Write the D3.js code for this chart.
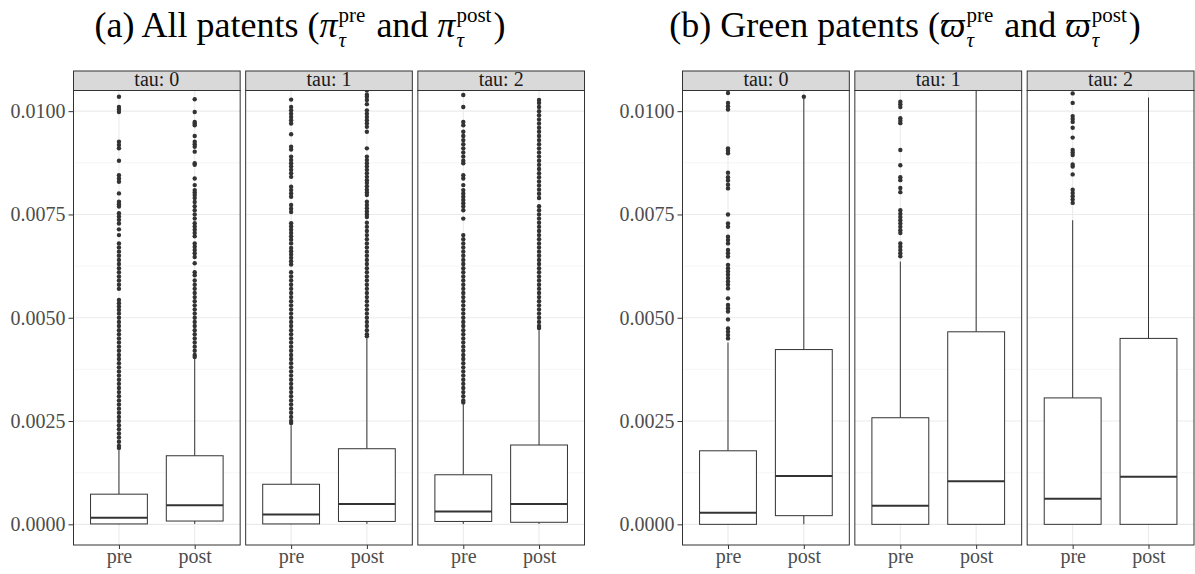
<!DOCTYPE html>
<html>
<head>
<meta charset="utf-8">
<script src="https://cdn.jsdelivr.net/npm/d3@7"></script>
<style>
  body { margin: 0; background: #fff; }
  svg { display: block; font-family: "Liberation Serif", "DejaVu Serif", serif; }
</style>
</head>
<body>
<div id="chart"></div>
<script>
/* boxplots of pre/post values by tau, all patents vs green patents */

const taus = ["tau: 0", "tau: 1", "tau: 2"];
const groups = ["pre", "post"];
const yTicks = [0, 0.0025, 0.005, 0.0075, 0.01];
const yMinor = [0.00125, 0.00375, 0.00625, 0.00875];

// order of every array: tau0 pre, tau0 post, tau1 pre, tau1 post, tau2 pre, tau2 post
// (a) all patents
const allLow  = [0, 0.00001, 0, 0.00001, 0.00001, 0.00001];
const allQ1   = [0.00001, 0.00008, 0.00001, 0.00007, 0.00007, 0.00005];
const allMed  = [0.00016, 0.00046, 0.00024, 0.00049, 0.00031, 0.00049];
const allQ3   = [0.00073, 0.00166, 0.00097, 0.00183, 0.0012, 0.00192];
const allHigh = [0.0018, 0.0040, 0.0024, 0.0045, 0.0029, 0.0047];
const allOut = [
  [0.01035, 0.0101, 0.01004, 0.00998, 0.00926, 0.00918, 0.0091, 0.0088, 0.00845, 0.00837, 0.00829,
   0.00801, 0.00781, 0.00775, 0.00769, 0.00753, 0.00745, 0.00737, 0.00728, 0.00714, 0.007,
   0.0068, 0.0067, 0.0066, 0.0065, 0.0064, 0.0063, 0.0062, 0.0061, 0.006, 0.0059, 0.0058, 0.0057,
   0.00543, 0.00535, 0.00527, 0.00519, 0.0051, 0.005, 0.0049, 0.0048, 0.0047, 0.0046, 0.0045,
   0.0044, 0.0043, 0.0042, 0.0041, 0.004, 0.0039, 0.0038, 0.0037, 0.0036, 0.0035, 0.0034, 0.0033,
   0.0032, 0.0031, 0.003, 0.0029, 0.0028, 0.0027, 0.0026, 0.0025, 0.0024, 0.0023, 0.0022, 0.0021,
   0.002, 0.0019, 0.00185],
  [0.01029, 0.00998, 0.00974, 0.0097, 0.00966, 0.0094, 0.00926, 0.0092, 0.00914, 0.00902, 0.00874,
   0.0087, 0.00837, 0.00821, 0.00809, 0.00803, 0.00797, 0.0079, 0.0078, 0.0077, 0.0076, 0.0075,
   0.0074, 0.00729, 0.00721, 0.00713, 0.00705, 0.00697, 0.0068, 0.00672, 0.00664, 0.00656, 0.00647,
   0.00632, 0.0061, 0.00603, 0.0059, 0.0058, 0.0057, 0.0056, 0.0055, 0.0054, 0.0053, 0.0052,
   0.0051, 0.005, 0.0049, 0.0048, 0.0047, 0.0046, 0.0045, 0.0044, 0.0043, 0.0042, 0.0041, 0.00405],
  [0.01028, 0.0101, 0.01002, 0.00994, 0.00986, 0.00978, 0.0097, 0.00944, 0.00914, 0.00907, 0.0089,
   0.00882, 0.00874, 0.00866, 0.00858, 0.0085, 0.00841, 0.00817, 0.00809, 0.00801, 0.00793,
   0.00773, 0.00764, 0.00756, 0.00729, 0.00721, 0.00713, 0.00705, 0.00697, 0.00689, 0.0068,
   0.00669, 0.00661, 0.00653, 0.00645, 0.00637, 0.00629, 0.0061, 0.006, 0.0059, 0.0058, 0.0057,
   0.0056, 0.0055, 0.0054, 0.0053, 0.0052, 0.0051, 0.005, 0.0049, 0.0048, 0.0047, 0.0046, 0.0045,
   0.0044, 0.0043, 0.0042, 0.0041, 0.004, 0.0039, 0.0038, 0.0037, 0.0036, 0.0035, 0.0034, 0.0033,
   0.0032, 0.0031, 0.003, 0.0029, 0.0028, 0.0027, 0.0026, 0.0025, 0.00245],
  [0.0108, 0.0107, 0.0106, 0.0105, 0.0104, 0.01035, 0.01027, 0.01017, 0.01002, 0.00994, 0.00986,
   0.00978, 0.0097, 0.00962, 0.0095, 0.0091, 0.0089, 0.00882, 0.00874, 0.00866, 0.00858, 0.0085,
   0.00841, 0.00833, 0.00826, 0.00818, 0.0081, 0.00803, 0.00797, 0.00781, 0.00773, 0.00765,
   0.00757, 0.0075, 0.00744, 0.0073, 0.0072, 0.0071, 0.007, 0.0069, 0.0068, 0.0067, 0.0066, 0.0065,
   0.0064, 0.0063, 0.0062, 0.0061, 0.006, 0.0059, 0.0058, 0.0057, 0.0056, 0.0055, 0.0054, 0.0053,
   0.0052, 0.0051, 0.005, 0.0049, 0.0048, 0.0047, 0.0046, 0.00455],
  [0.01039, 0.0101, 0.00974, 0.00966, 0.0095, 0.0094, 0.0093, 0.0092, 0.0091, 0.009, 0.0089, 0.0088,
   0.00874, 0.00845, 0.00837, 0.00821, 0.00809, 0.00801, 0.00793, 0.00785, 0.00777, 0.00769,
   0.0076, 0.0074, 0.007, 0.0069, 0.0068, 0.0067, 0.0066, 0.0065, 0.0064, 0.0063, 0.0062, 0.0061,
   0.006, 0.0059, 0.0058, 0.0057, 0.0056, 0.0055, 0.0054, 0.0053, 0.0052, 0.0051, 0.005, 0.0049,
   0.0048, 0.0047, 0.0046, 0.0045, 0.0044, 0.0043, 0.0042, 0.0041, 0.004, 0.0039, 0.0038, 0.0037,
   0.0036, 0.0035, 0.0034, 0.0033, 0.0032, 0.0031, 0.003, 0.00295],
  [0.01027, 0.0102, 0.0101, 0.01, 0.0099, 0.0098, 0.0097, 0.0096, 0.0095, 0.0094, 0.0093, 0.0092,
   0.0091, 0.009, 0.0089, 0.0088, 0.0087, 0.0086, 0.0085, 0.0084, 0.0083, 0.0082, 0.0081, 0.008,
   0.0079, 0.0077, 0.0076, 0.0075, 0.0074, 0.0073, 0.0072, 0.0071, 0.007, 0.0069, 0.0068, 0.0067,
   0.0066, 0.0065, 0.0064, 0.0063, 0.0062, 0.0061, 0.006, 0.0059, 0.0058, 0.0057, 0.0056, 0.0055,
   0.0054, 0.0053, 0.0052, 0.0051, 0.005, 0.0049, 0.0048, 0.00475]
];

// (b) green patents
const greenLow  = [0, 0, 0, 0, 0, 0];
const greenQ1   = [0, 0.00021, 0, 0, 0, 0];
const greenMed  = [0.00028, 0.00117, 0.00045, 0.00104, 0.00062, 0.00115];
const greenQ3   = [0.00178, 0.00423, 0.00258, 0.00466, 0.00306, 0.0045];
const greenHigh = [0.0044, 0.0103, 0.00636, 0.0115, 0.00736, 0.01033];
const greenOut = [
  [0.01044, 0.0102, 0.01012, 0.01004, 0.0091, 0.00904, 0.00898, 0.00851, 0.0084, 0.00832, 0.00822,
   0.00813, 0.0075, 0.00728, 0.0072, 0.00696, 0.00688, 0.0068, 0.00664, 0.00656, 0.00648, 0.00628,
   0.0062, 0.00612, 0.00604, 0.00596, 0.00588, 0.0058, 0.00571, 0.00547, 0.00531, 0.00523, 0.00515,
   0.00496, 0.00474, 0.00466, 0.00458, 0.0045],
  [0.01035],
  [0.01023, 0.01017, 0.0101, 0.00983, 0.00977, 0.00971, 0.00906, 0.00869, 0.0084, 0.00833, 0.00814,
   0.00804, 0.0076, 0.00752, 0.00744, 0.00736, 0.00728, 0.0072, 0.00712, 0.00705, 0.0068, 0.00672,
   0.00664, 0.00656, 0.00649],
  [],
  [0.01043, 0.0102, 0.00988, 0.00981, 0.00974, 0.0096, 0.00936, 0.00906, 0.009, 0.00894, 0.00871,
   0.00866, 0.00847, 0.0081, 0.00802, 0.00794, 0.00786, 0.00778],
  []
];

const width = 1195, height = 574;
const panelTop = 90.5, panelBottom = 545, stripH = 19.5;
const serif = "'Liberation Serif', 'DejaVu Serif', serif";

let svg = d3.select("#chart")
    .append("svg")
    .attr("width", width)
    .attr("height", height)
    .attr("viewBox", [0, 0, width, height]);

function makeRows(low, q1, med, q3, high, out) {
    return taus.flatMap((t, i) => groups.map((g, j) => {
        const k = i * 2 + j;
        return {tau: t, grp: g, low: low[k], q1: q1[k], med: med[k], q3: q3[k], high: high[k], out: out[k]};
    }));
}

function drawTitle(cx, parts) {
    const g = svg.append("g").attr("fill", "#000");
    let pos = 0;
    parts.forEach(p => {
        if (p.t) {
            const t = g.append("text")
                .attr("x", pos).attr("y", 37)
                .style("white-space", "pre")
                .attr("font-size", 36)
                .text(p.t);
            pos += t.node().getComputedTextLength();
        } else {
            const s = g.append("text")
                .attr("x", pos).attr("y", 37)
                .attr("font-size", 36)
                .attr("font-style", "italic")
                .text(p.sym);
            pos += s.node().getComputedTextLength() + 1;
            const sub = g.append("text")
                .attr("x", pos).attr("y", 47)
                .attr("font-size", 21)
                .attr("font-style", "italic")
                .text(p.sub);
            const sup = g.append("text")
                .attr("x", pos).attr("y", 22)
                .attr("font-size", 21)
                .text(p.sup);
            pos += Math.max(sub.node().getComputedTextLength(), sup.node().getComputedTextLength()) + 2;
        }
    });
    g.attr("transform", `translate(${cx - pos / 2},0)`);
}

function drawFacets(id, left, right, rows) {
    const fx = d3.scaleBand()
        .domain(taus)
        .range([left, right])
        .paddingInner(0.032);

    const y = d3.scaleLinear()
        .domain([-0.0005, 0.0105])
        .range([panelBottom, panelTop]);

    // y axis on the first panel only
    let yAxis = svg.append("g")
        .attr("transform", `translate(${left},0)`)
        .call(d3.axisLeft(y).tickValues(yTicks).tickFormat(d3.format(".4f")).tickSize(5).tickPadding(3));
    yAxis.select(".domain").remove();
    yAxis.attr("font-family", null).style("font-family", serif);
    yAxis.selectAll(".tick line").attr("stroke", "#333");
    yAxis.selectAll(".tick text")
        .attr("font-size", 20)
        .attr("fill", "#4d4d4d");

    taus.forEach((t, i) => {
        const pw = fx.bandwidth();
        const g = svg.append("g").attr("transform", `translate(${fx(t)},0)`);
        const x = d3.scalePoint().domain(groups).range([0, pw]).padding(0.6);
        const bw = x.step() * 0.75;

        g.append("clipPath").attr("id", `clip-${id}-${i}`)
            .append("rect")
            .attr("x", 0).attr("y", panelTop)
            .attr("width", pw).attr("height", panelBottom - panelTop);

        const inner = g.append("g").attr("clip-path", `url(#clip-${id}-${i})`);

        // grid
        inner.selectAll(".minor").data(yMinor).join("line")
            .attr("x1", 0).attr("x2", pw)
            .attr("y1", d => y(d)).attr("y2", d => y(d))
            .attr("stroke", "#f2f2f2").attr("stroke-width", 0.7);
        inner.selectAll(".major").data(yTicks).join("line")
            .attr("x1", 0).attr("x2", pw)
            .attr("y1", d => y(d)).attr("y2", d => y(d))
            .attr("stroke", "#ebebeb").attr("stroke-width", 1.1);
        inner.selectAll(".vmajor").data(groups).join("line")
            .attr("x1", d => x(d)).attr("x2", d => x(d))
            .attr("y1", panelTop).attr("y2", panelBottom)
            .attr("stroke", "#ebebeb").attr("stroke-width", 1.1);

        const data = rows.filter(r => r.tau === t);

        let box = inner.selectAll(".box")
            .data(data)
            .join("g")
            .attr("class", "box");

        box.append("line")
            .attr("x1", d => x(d.grp)).attr("x2", d => x(d.grp))
            .attr("y1", d => y(d.q3)).attr("y2", d => y(d.high))
            .attr("stroke", "#333").attr("stroke-width", 1);
        box.append("line")
            .attr("x1", d => x(d.grp)).attr("x2", d => x(d.grp))
            .attr("y1", d => y(d.q1)).attr("y2", d => y(d.low))
            .attr("stroke", "#333").attr("stroke-width", 1);
        box.append("rect")
            .attr("x", d => x(d.grp) - bw / 2)
            .attr("width", bw)
            .attr("y", d => y(d.q3))
            .attr("height", d => y(d.q1) - y(d.q3))
            .attr("fill", "#fff")
            .attr("stroke", "#333").attr("stroke-width", 1);
        box.append("line")
            .attr("x1", d => x(d.grp) - bw / 2).attr("x2", d => x(d.grp) + bw / 2)
            .attr("y1", d => y(d.med)).attr("y2", d => y(d.med))
            .attr("stroke", "#333").attr("stroke-width", 2);

        box.selectAll("circle")
            .data(d => d.out.map(v => ({grp: d.grp, v: v})))
            .join("circle")
            .attr("cx", d => x(d.grp))
            .attr("cy", d => y(d.v))
            .attr("r", 2.2)
            .attr("fill", "#333");

        // panel border
        g.append("rect")
            .attr("x", 0).attr("y", panelTop)
            .attr("width", pw).attr("height", panelBottom - panelTop)
            .attr("fill", "none").attr("stroke", "#333").attr("stroke-width", 1);

        // strip
        g.append("rect")
            .attr("x", 0).attr("y", panelTop - stripH)
            .attr("width", pw).attr("height", stripH)
            .attr("fill", "#d9d9d9").attr("stroke", "#333").attr("stroke-width", 1);
        g.append("text")
            .attr("x", pw / 2).attr("y", panelTop - 4.5)
            .attr("text-anchor", "middle")
            .style("font-family", serif)
            .attr("font-size", 20)
            .attr("fill", "#1a1a1a")
            .text(t);

        // x axis
        let xAxis = g.append("g")
            .attr("transform", `translate(0,${panelBottom})`)
            .call(d3.axisBottom(x).tickSize(4));
        xAxis.select(".domain").remove();
        xAxis.attr("font-family", null).style("font-family", serif);
        xAxis.selectAll(".tick line").attr("stroke", "#333");
        xAxis.selectAll(".tick text")
            .attr("y", 18).attr("dy", 0)
            .attr("font-size", 20)
            .attr("fill", "#4d4d4d");
    });
}

drawTitle(300, [
    {t: "(a) All patents ("},
    {sym: "π", sub: "τ", sup: "pre"},
    {t: " and "},
    {sym: "π", sub: "τ", sup: "post"},
    {t: ")"}
]);
drawTitle(905, [
    {t: "(b) Green patents ("},
    {sym: "ϖ", sub: "τ", sup: "pre"},
    {t: " and "},
    {sym: "ϖ", sub: "τ", sup: "post"},
    {t: ")"}
]);

drawFacets("a", 73.5, 584.5, makeRows(allLow, allQ1, allMed, allQ3, allHigh, allOut));
drawFacets("b", 682.5, 1194, makeRows(greenLow, greenQ1, greenMed, greenQ3, greenHigh, greenOut));
</script>
</body>
</html>
